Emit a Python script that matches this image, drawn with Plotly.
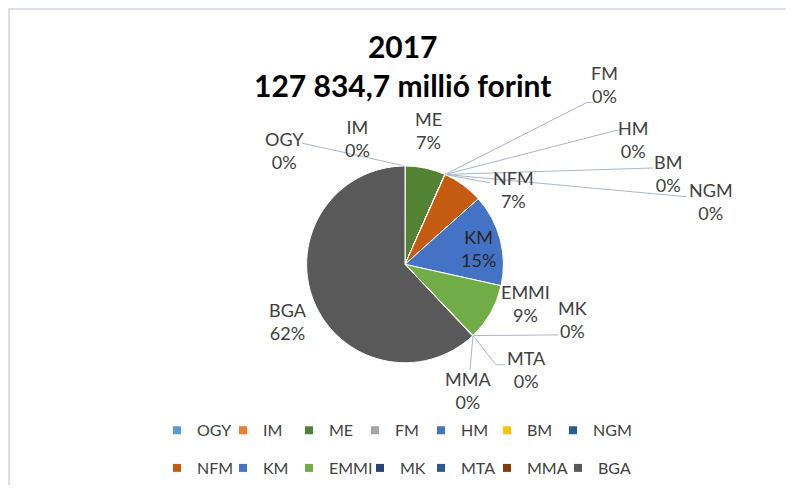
import math
import plotly.graph_objects as go

# ---------------- data ----------------
categories = ["OGY", "IM", "ME", "FM", "HM", "BM", "NGM",
              "NFM", "KM", "EMMI", "MK", "MTA", "MMA", "BGA"]
# million forint (small ones round to 0%)
values = [20, 15, 8450, 10, 8, 12, 30,
          8560, 19300, 12000, 60, 40, 30, 79300]
colors = ["#5B9BD5", "#ED7D31", "#548235", "#A5A5A5", "#4472C4", "#FFC000", "#255E91",
          "#C55A11", "#4472C4", "#70AD47", "#264478", "#2F5597", "#843C0C", "#595959"]
title_lines = ["2017", "127 834,7 millió forint"]

# ---------------- layout helpers (page pixels) ----------------
PAGE_W, PAGE_H = 794, 493
OFF = 8                       # default body margin of the html page
W, H = PAGE_W - 2 * OFF, PAGE_H - 2 * OFF
def fx(x): return (x - OFF) / W
def fy(y): return 1 - (y - OFF) / H

CX, CY, R = 405, 266, 99          # pie centre / radius in page px
FONT = "Lato"
LABEL_COLOR = "#404040"
LEADER_COLOR = "#A9B7CA"

# label centre positions and leader-line elbows (page pixels), per category
label_pos = {
    "OGY": (284, 151), "IM": (357, 139), "ME": (428, 131),
    "FM": (604, 85), "HM": (633, 140), "BM": (668, 175), "NGM": (711, 203),
    "NFM": (513, 191), "KM": (478, 250), "EMMI": (525, 305),
    "MK": (572, 321), "MTA": (526, 372), "MMA": (468, 393), "BGA": (288, 323),
}
leader_pts = {
    "OGY": [(302, 144)],
    "FM": [(587, 103), (592, 103)],
    "HM": [(617, 131), (620, 131)],
    "BM": [(653, 169)],
    "NGM": [(687, 198)],
    "NFM": [(490, 184)],
    "MK": [(558, 337)],
    "MTA": [(496, 367), (505, 367)],
    "MMA": [(470, 372)],
}
# legend entry text widths (px); wider entries for long names
legend_widths = {"NGM": 45, "EMMI": 26, "MK": 16, "MMA": 26, "BGA": 45}

total = sum(values)
pcts = [round(v / total * 100) for v in values]

# slice geometry from data
cum = 0
start_pt, mid_pt = {}, {}
for c, v in zip(categories, values):
    a0 = 2 * math.pi * cum / total
    am = 2 * math.pi * (cum + v / 2) / total
    start_pt[c] = (CX + R * math.sin(a0), CY - R * math.cos(a0))
    mid_pt[c] = (CX + R * math.sin(am), CY - R * math.cos(am))
    cum += v

fig = go.Figure()
fig.add_trace(go.Pie(
    labels=categories, values=values, sort=False, direction="clockwise", rotation=0,
    marker=dict(colors=colors, line=dict(color="#FFFFFF", width=1)),
    textinfo="none", hoverinfo="label+percent", showlegend=False,
    domain=dict(x=[fx(CX - R), fx(CX + R)], y=[fy(CY + R), fy(CY - R)]),
))

# legend entries (two rows as two legends)
for i, (c, col) in enumerate(zip(categories, colors)):
    fig.add_trace(go.Scatter(
        x=[None], y=[None], mode="markers", name=c,
        marker=dict(symbol="square", size=8, color=col),
        legend="legend" if i < 7 else "legend2",
        legendwidth=legend_widths.get(c),
        hoverinfo="skip"))

annotations = []
shapes = []
for c, p in zip(categories, pcts):
    lx, ly = label_pos[c]
    annotations.append(dict(
        x=fx(lx), y=fy(ly), xref="paper", yref="paper", showarrow=False,
        xanchor="center", yanchor="middle",
        text=f"{c}<br>{p}%", align="center",
        font=dict(family=FONT, size=18, color="#262626" if c == "KM" else LABEL_COLOR)))
    if c in leader_pts:
        p0 = start_pt[c] if c == "NFM" else mid_pt[c]
        pts = [p0] + leader_pts[c]
        for (x0, y0), (x1, y1) in zip(pts[:-1], pts[1:]):
            shapes.append(dict(type="line", xref="paper", yref="paper",
                               x0=fx(x0), y0=fy(y0), x1=fx(x1), y1=fy(y1),
                               line=dict(color=LEADER_COLOR, width=1), layer="below"))

# chart-area border
shapes.append(dict(type="rect", xref="paper", yref="paper",
                   x0=fx(9), y0=fy(520), x1=fx(820), y1=fy(9),
                   line=dict(color="#DCE1E8", width=2), layer="below"))

annotations.append(dict(
    x=fx(402), y=fy(66), xref="paper", yref="paper", showarrow=False,
    xanchor="center", yanchor="middle",
    text="<br>".join(title_lines), align="center",
    font=dict(family=FONT, size=30, color="#000000", weight="bold")))

leg_common = dict(orientation="h", xanchor="left", yanchor="middle",
                  entrywidth=21, entrywidthmode="pixels", bgcolor="rgba(0,0,0,0)",
                  font=dict(family=FONT, size=16, color=LABEL_COLOR), itemclick=False)
fig.update_layout(
    width=W, height=H, margin=dict(l=0, r=0, t=0, b=0),
    paper_bgcolor="white", plot_bgcolor="white",
    xaxis=dict(visible=False), yaxis=dict(visible=False),
    annotations=annotations, shapes=shapes,
    legend=dict(x=fx(157), y=fy(433), **leg_common),
    legend2=dict(x=fx(157), y=fy(471), **leg_common),
)
fig.write_html("out.html")
